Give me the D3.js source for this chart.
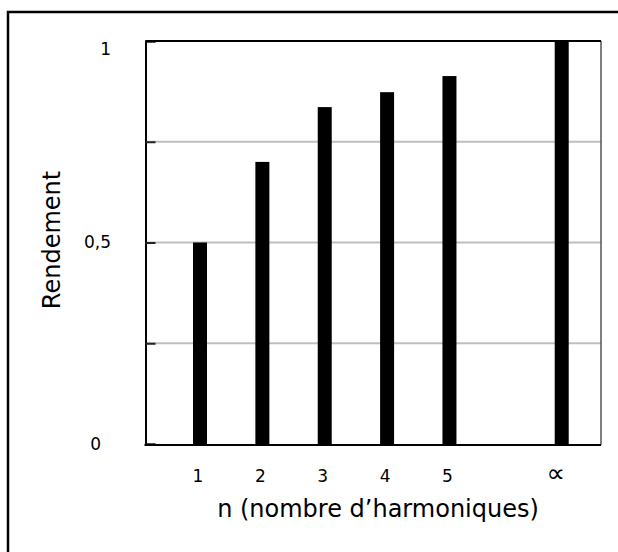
<!DOCTYPE html>
<html>
<head>
<meta charset="utf-8">
<script src="https://cdn.jsdelivr.net/npm/d3@7"></script>
<style>
    body { margin: 0; background: #fff; }
    #chart { width: 618px; height: 552px; }
    text { font-family: 'DejaVu Sans', Verdana, sans-serif; fill: #000; }
</style>
</head>
<body>
<div id="chart"></div>
<script>
///// DONNÉES //////
let categories = ['1', '2', '3', '4', '5', '\u221D'];
let positions = [1, 2, 3, 4, 5, 6.8];
let rendement = [0.5, 0.70, 0.836, 0.873, 0.913, 1];
let yTicks = [0, 0.25, 0.5, 0.75, 1];
let yTickLabels = ['0', '', '0,5', '', '1'];

let chartBlock = d3.select('#chart'), chart, x_c, y_c;

initChart();

function initChart() {
    let width = 618, height = 552;
    let plot = {left: 145.5, right: 601, top: 41, bottom: 444};

    chart = chartBlock
        .append('svg')
        .attr('width', width)
        .attr('height', height);

    //Cadre extérieur (seulement haut et gauche visibles)
    chart.append('path')
        .attr('d', 'M8,' + height + ' V12 H' + width)
        .attr('fill', 'none')
        .attr('stroke', '#000')
        .attr('stroke-width', 2.5);

    //Echelles
    x_c = d3.scaleLinear()
        .domain([0.126, 7.43])
        .range([plot.left, plot.right]);

    y_c = d3.scaleLinear()
        .domain([0, 1])
        .range([plot.bottom, plot.top]);

    //Grille
    chart.append('g')
        .selectAll('line')
        .data(yTicks.filter(function(d) { return d > 0 && d < 1; }))
        .enter()
        .append('line')
        .attr('x1', plot.left)
        .attr('x2', plot.right)
        .attr('y1', function(d) { return y_c(d); })
        .attr('y2', function(d) { return y_c(d); })
        .attr('stroke', '#bfbfbf')
        .attr('stroke-width', 2);

    //Barres
    chart.append('g')
        .selectAll('rect')
        .data(rendement)
        .enter()
        .append('rect')
        .attr('x', function(d, i) { return x_c(positions[i]) - 7; })
        .attr('width', 14)
        .attr('y', function(d) { return y_c(d); })
        .attr('height', function(d) { return y_c(0) - y_c(d); })
        .attr('fill', '#000');

    //Bord droit
    chart.append('line')
        .attr('x1', plot.right).attr('x2', plot.right)
        .attr('y1', plot.top).attr('y2', plot.bottom + 1)
        .attr('stroke', '#555')
        .attr('stroke-width', 1.5);

    //Axe Y
    let yAxis = d3.axisRight(y_c)
        .tickValues(yTicks)
        .tickSize(10)
        .tickFormat('');

    chart.append('g')
        .attr('transform', 'translate(' + plot.left + ',0)')
        .call(yAxis)
        .call(function(g) {
            g.select('.domain').attr('stroke', '#000').attr('stroke-width', 2);
            g.selectAll('.tick line').attr('stroke', '#222').attr('stroke-width', 2);
        });

    chart.append('g')
        .selectAll('text')
        .data(yTicks)
        .enter()
        .append('text')
        .attr('x', function(d) { return d == 0 ? 101 : 111; })
        .attr('y', function(d) { return d == 1 ? y_c(d) + 8 : y_c(d); })
        .attr('dy', '0.35em')
        .attr('text-anchor', 'end')
        .style('font-size', '17px')
        .text(function(d, i) { return yTickLabels[i]; });

    //Lignes haut et bas
    chart.append('line')
        .attr('x1', plot.left).attr('x2', plot.right)
        .attr('y1', plot.top).attr('y2', plot.top)
        .attr('stroke', '#000').attr('stroke-width', 2);

    chart.append('line')
        .attr('x1', plot.left - 1).attr('x2', plot.right)
        .attr('y1', plot.bottom + 1).attr('y2', plot.bottom + 1)
        .attr('stroke', '#000').attr('stroke-width', 2);

    //Etiquettes X
    chart.append('g')
        .selectAll('text')
        .data(categories)
        .enter()
        .append('text')
        .attr('x', function(d, i) { return x_c(positions[i]) - (i == 5 ? 6 : 2); })
        .attr('y', 482)
        .attr('text-anchor', 'middle')
        .style('font-size', function(d, i) { return i == 5 ? '26px' : '17px'; })
        .text(function(d) { return d; });

    //Titres des axes
    chart.append('text')
        .attr('x', 378)
        .attr('y', 517)
        .attr('text-anchor', 'middle')
        .style('font-size', '24px')
        .text('n (nombre d\u2019harmoniques)');

    chart.append('text')
        .attr('transform', 'translate(60,240) rotate(-90)')
        .attr('text-anchor', 'middle')
        .style('font-size', '24px')
        .text('Rendement');
}
</script>
</body>
</html>
